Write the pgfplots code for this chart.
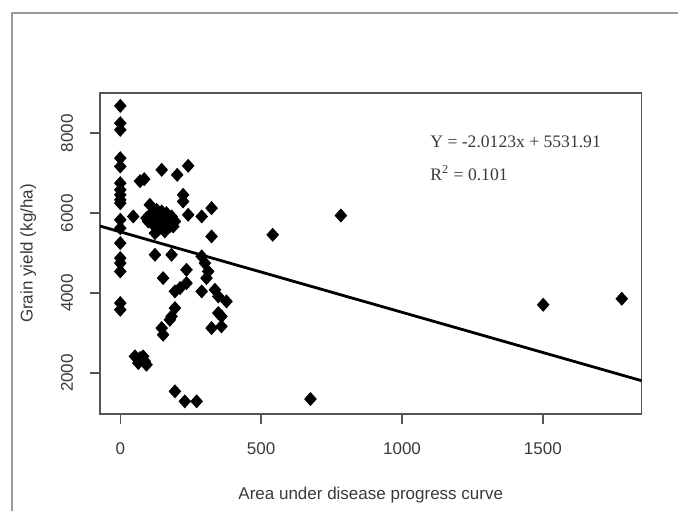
\documentclass[border=0pt]{standalone}
\usepackage{fontspec}
\setmainfont{Liberation Sans}
\newfontfamily\timesfont{Liberation Serif}
\usepackage{pgfplots}
\pgfplotsset{compat=1.18}

\definecolor{boxgray}{HTML}{555555}
\definecolor{txtgray}{HTML}{3A3A3A}
\definecolor{framegray}{HTML}{9A9A9A}

\newcommand{\lbl}{\fontsize{8.5}{10}\selectfont}

\begin{document}
\begin{tikzpicture}
\useasboundingbox (0,0) rectangle (339pt,255.5pt);
% outer figure frame
\draw[framegray, line width=1pt] (5.85pt,0) -- (5.85pt,249.15pt) -- (339pt,249.15pt);

\begin{axis}[
    at={(50pt,48.5pt)}, anchor=south west,
    scale only axis, width=270.75pt, height=160.5pt,
    xmin=-72, xmax=1850, ymin=975, ymax=9005,
    xtick={0,500,1000,1500}, ytick={2000,4000,6000,8000},
    tick align=outside, major tick length=5pt,
    xtick pos=bottom, ytick pos=left,
    axis line style={boxgray, line width=0.9pt},
    tick style={boxgray, line width=0.7pt},
    /pgf/number format/assume math mode=true,
    /pgf/number format/set thousands separator={},
    ticklabel style={font=\lbl, text=txtgray},
    xticklabel style={yshift=-6pt},
    yticklabel style={xshift=-5pt, rotate=90, anchor=south},
    xlabel={Area under disease progress curve},
    ylabel={Grain yield (kg/ha)},
    label style={font=\lbl, text=txtgray},
    xlabel style={at={(axis description cs:0.5,-0.252)}, anchor=center},
    ylabel style={at={(axis description cs:-0.1324,0.5)}, anchor=center},
]
\addplot[only marks, mark=diamond*, mark size=3.2pt, black,
         mark options={xscale=1.2}] coordinates {
  (0,8683)(0,8250)(0,8083)(0,7375)(0,7167)(0,6750)(0,6583)(0,6458)(0,6333)(0,6250)
  (0,5833)(0,5625)(0,5250)(0,4875)(0,4750)(0,4542)(0,3750)(0,3583)
  (46,5917)(70,6800)(85,6850)(105,6208)(147,7083)(202,6958)(241,7183)
  (223,6458)(223,6292)(241,5958)(289,5917)(324,6125)(324,5417)
  (93,5875)(111,6000)(129,6083)(147,6042)(164,6000)(182,5917)(194,5792)
  (176,5667)(158,5542)(135,5583)(117,5708)(99,5792)(129,5792)(152,5792)
  (170,5792)(141,5917)(123,5500)(188,5667)
  (123,4958)(182,4958)(289,4917)(300,4750)(312,4542)(306,4375)(235,4583)
  (152,4375)(235,4250)(212,4125)(194,4042)(289,4042)(336,4083)(348,3917)
  (377,3792)(194,3625)(182,3417)(176,3333)(348,3500)(359,3417)(324,3125)
  (359,3167)(147,3125)(152,2958)
  (52,2417)(70,2375)(87,2292)(64,2250)(81,2417)(93,2208)
  (194,1542)(229,1292)(271,1292)(541,5458)(783,5940)(675,1350)
  (1501,3708)(1780,3858)
};
\addplot[black, line width=1.4pt] coordinates {(-72,5676.8)(1850,1809.1)};
\end{axis}

\node[anchor=west, inner sep=0pt, font=\timesfont\fontsize{8.8}{10}\selectfont, text=txtgray]
  at (215pt,184.65pt) {Y = -2.0123x + 5531.91};
\node[anchor=west, inner sep=0pt, font=\timesfont\fontsize{8.8}{10}\selectfont, text=txtgray]
  at (215pt,169pt) {R\textsuperscript{2} = 0.101};
\end{tikzpicture}
\end{document}
